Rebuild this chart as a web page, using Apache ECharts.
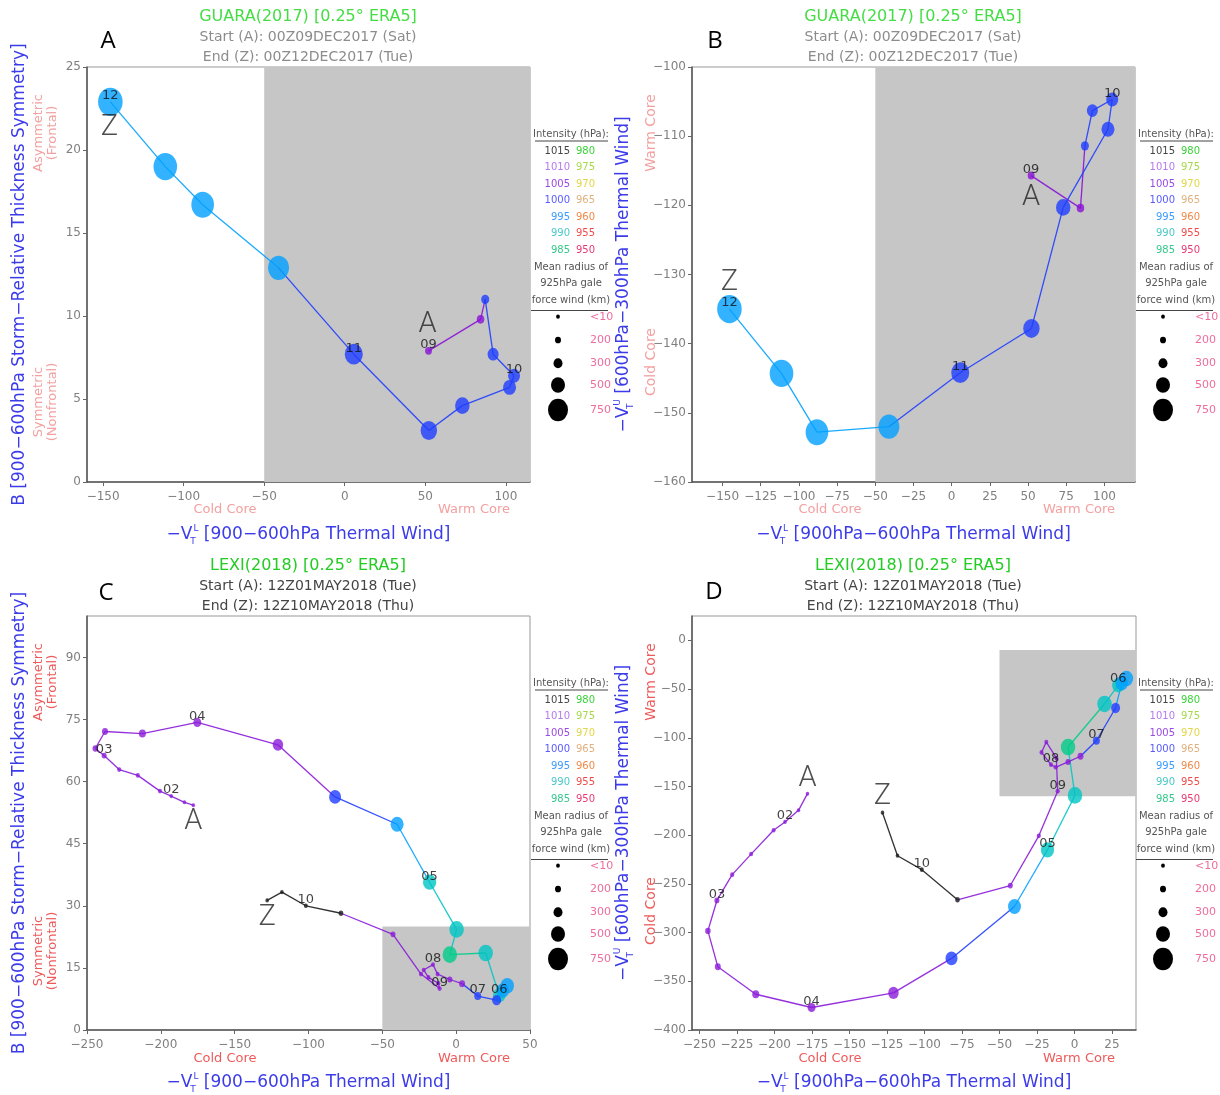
<!DOCTYPE html>
<html>
<head>
<meta charset="UTF-8">
<title>Cyclone phase space - GUARA / LEXI</title>
<script src="https://cdn.jsdelivr.net/npm/echarts@6/dist/echarts.min.js"></script>
<style>
  body{margin:0;background:#fff}
</style>
</head>
<body>
<div id="main" style="width:1220px;height:1095px"></div>
<script>
// GUARA (2017), 6-hourly, 00Z09DEC2017 -> 00Z12DEC2017
var guaraVTL  = [52, 84.3, 87.2, 92.1, 105.1, 102.3, 73, 52.2, 5.6, -41.1, -88.2, -111.4, -145.5];
var guaraB    = [7.9, 9.8, 11.0, 7.7, 6.4, 5.7, 4.6, 3.1, 7.7, 12.9, 16.7, 19.0, 22.9];
var guaraVTU  = [-115.7, -120.4, -111.4, -106.3, -104.7, -109.0, -120.3, -137.8, -144.2, -152.0, -152.8, -144.3, -135.0];
var guaraMslp = [1005, 1005, 1000, 1000, 1000, 1000, 1000, 1000, 1000, 995, 995, 995, 995];
var guaraGale = [230, 250, 270, 380, 420, 460, 520, 600, 667, 790, 860, 900, 940];
var guaraDay  = ['09', '', '', '', '10', '', '', '', '11', '', '', '', '12'];

// LEXI (2018), 6-hourly, 12Z01MAY2018 -> 12Z10MAY2018
var lexiVTL  = [-178, -184, -193, -200.6, -215.6, -228.2, -238.4, -244.4, -237.8, -212.5,
                -175.3, -120.7, -82, -40, -18, 0.3, -4.3, 20, 29.2, 34.6,
                31.5, 27.4, 14.6, 4, -4.3, -12.6, -15.7, -22, -18.8, -12.1,
                -11.2, -23.8, -42.8, -78, -101.8, -118, -128];
var lexiB    = [54.3, 55.0, 56.5, 57.7, 61.5, 62.9, 66.3, 68.0, 72.1, 71.6,
                74.3, 68.9, 56.3, 49.7, 35.7, 24.3, 18.2, 18.6, 8.4, 10.7,
                9.5, 7.2, 8.2, 11.2, 12.2, 13.5, 15.8, 14.5, 12.7, 11.3,
                10.0, 13.5, 23.1, 28.2, 30.0, 33.3, 31.3];
var lexiVTU  = [-157.4, -174.5, -186.4, -194.9, -219.4, -240.5, -267.0, -298.3, -335.0, -363.3,
                -376.9, -361.9, -326.5, -273.2, -215.0, -159.2, -109.5, -65.3, -45.9, -39.1,
                -44, -69.4, -103.1, -119, -124.8, -130.3, -127.6, -115, -104.4, -120.7,
                -154.8, -200.7, -251.7, -266.3, -235.4, -221.1, -176.9];
var lexiMslp = [1010, 1010, 1010, 1010, 1010, 1010, 1010, 1010, 1010, 1010,
                1010, 1010, 1000, 995, 990, 990, 985, 990, 990, 995,
                995, 1000, 1000, 1010, 1010, 1010, 1010, 1010, 1010, 1010,
                1010, 1010, 1010, 1015, 1015, 1015, 1015];
var lexiGale = [50, 50, 60, 100, 100, 110, 150, 175, 200, 233,
                267, 360, 420, 460, 470, 520, 520, 520, 440, 480,
                440, 300, 233, 200, 160, 100, 100, 100, 100, 100,
                110, 110, 150, 130, 100, 70, 60];
var lexiDay  = ['', '', '02', '', '', '', '03', '', '', '', '04', '', '', '', '05', '', '', '', '06', '',
                '', '', '07', '', '', '', '08', '', '', '', '09', '', '', '', '10', '', ''];

// tick labels
var ticksA_x = [-150, -100, -50, 0, 50, 100];
var ticksA_y = [0, 5, 10, 15, 20, 25];
var ticksB_x = [-150, -125, -100, -75, -50, -25, 0, 25, 50, 75, 100];
var ticksB_y = [-160, -150, -140, -130, -120, -110, -100];
var ticksC_x = [-250, -200, -150, -100, -50, 0, 50];
var ticksC_y = [0, 15, 30, 45, 60, 75, 90];
var ticksD_x = [-250, -225, -200, -175, -150, -125, -100, -75, -50, -25, 0, 25];
var ticksD_y = [-400, -350, -300, -250, -200, -150, -100, -50, 0];

// legend
var legendLeftHpa  = [1015, 1010, 1005, 1000, 995, 990, 985];
var legendRightHpa = [980, 975, 970, 965, 960, 955, 950];
var legendGaleKm   = [80, 200, 300, 500, 750];
var legendGaleText = ['<10', '200', '300', '500', '750'];

var mslpColor = {1015: '#1c1c1c', 1010: '#8a1bd8', 1005: '#8812d6', 1000: '#1f3dff', 995: '#00a0ff',
                 990: '#00c4c4', 985: '#00cc88', 980: '#2ecc2e', 975: '#a0d22a', 970: '#e0d82c',
                 965: '#e0aa70', 960: '#f0803a', 955: '#f03c3c', 950: '#e0145a'};
var legendTextColor = {1015: '#444', 1010: '#b57aee', 1005: '#9a4ae6', 1000: '#5a5aff', 995: '#3a9cff',
                 990: '#4cc8c8', 985: '#36c88c', 980: '#3ad43a', 975: '#a8d84a', 970: '#e2d64a',
                 965: '#e0b07e', 960: '#ee8a4a', 955: '#ee4c4c', 950: '#e83a72'};

var F = 'DejaVu Sans';
var BLUE = '#3b3bea';

function galeSize(km) {
  var k = [0, 100, 200, 300, 500, 750, 1000], d = [3, 4, 6, 9, 14, 20, 26];
  for (var i = 1; i < k.length; i++) {
    if (km <= k[i]) return d[i - 1] + (d[i] - d[i - 1]) * (km - k[i - 1]) / (k[i] - k[i - 1]);
  }
  return 26;
}
function minus(v) { return String(v).replace('-', '\u2212'); }

var panels = [
  {xs: guaraVTL, ys: guaraB, mslp: guaraMslp, gale: guaraGale, day: guaraDay,
   grid: {left: 87, top: 67, width: 443, height: 415}, xr: [-160, 115], yr: [0, 25],
   xt: ticksA_x, yt: ticksA_y, box: [[-50, 0], [115, 25]], offA: [-1, -26], offZ: [-1, 26],
   xName: '900\u2212600hPa', yKind: 'B'},
  {xs: guaraVTL, ys: guaraVTU, mslp: guaraMslp, gale: guaraGale, day: guaraDay,
   grid: {left: 692, top: 67, width: 443, height: 415}, xr: [-170, 120], yr: [-160, -100],
   xt: ticksB_x, yt: ticksB_y, box: [[-50, -160], [120, -100]], offA: [0, 22], offZ: [0, -26],
   xName: '900hPa\u2212600hPa', yKind: 'U'},
  {xs: lexiVTL, ys: lexiB, mslp: lexiMslp, gale: lexiGale, day: lexiDay,
   grid: {left: 87, top: 616, width: 443, height: 416}, xr: [-250, 50], yr: [0, 100],
   xt: ticksC_x, yt: ticksC_y, box: [[-50, 0], [50, 25]], offA: [0, 17], offZ: [0, 17],
   xName: '900\u2212600hPa', yKind: 'B'},
  {xs: lexiVTL, ys: lexiVTU, mslp: lexiMslp, gale: lexiGale, day: lexiDay,
   grid: {left: 692, top: 616, width: 444, height: 416}, xr: [-255, 41], yr: [-400, 25],
   xt: ticksD_x, yt: ticksD_y, box: [[-50, -160], [41, -10]], offA: [0, -15], offZ: [0, -16],
   xName: '900hPa\u2212600hPa', yKind: 'U'}
];

function vRich(color) {
  return {
    a: {fontSize: 17, color: color, fontFamily: F, lineHeight: 22},
    s: {fontSize: 9, color: color, fontFamily: F, verticalAlign: 'bottom', lineHeight: 10, width: 1},
    p: {fontSize: 9, color: color, fontFamily: F, verticalAlign: 'top', lineHeight: 10}
  };
}

var grids = [], xAxes = [], yAxes = [], series = [];
panels.forEach(function (p, i) {
  grids.push({left: p.grid.left, top: p.grid.top, width: p.grid.width, height: p.grid.height,
              show: true, borderColor: '#999', borderWidth: 1});
  xAxes.push({
    type: 'value', gridIndex: i, min: p.xr[0], max: p.xr[1],
    axisLine: {show: true, onZero: false, lineStyle: {color: '#555', width: 1.5}},
    axisTick: {show: true, length: 4, customValues: p.xt, lineStyle: {color: '#666'}},
    axisLabel: {customValues: p.xt, color: '#808080', fontSize: 12, fontFamily: F, margin: 9, formatter: minus},
    splitLine: {show: false},
    name: '{a|\u2212V}{s|T}{p|L}{a| [' + p.xName + ' Thermal Wind]}',
    nameLocation: 'middle', nameGap: 42,
    nameTextStyle: {rich: vRich(BLUE)}
  });
  yAxes.push({
    type: 'value', gridIndex: i, min: p.yr[0], max: p.yr[1],
    axisLine: {show: true, onZero: false, lineStyle: {color: '#555', width: 1.5}},
    axisTick: {show: true, length: 4, customValues: p.yt, lineStyle: {color: '#666'}},
    axisLabel: {customValues: p.yt, color: '#808080', fontSize: 12, fontFamily: F, margin: 6, formatter: minus},
    splitLine: {show: false},
    name: p.yKind === 'B' ? '{a|B [900\u2212600hPa Storm\u2212Relative Thickness Symmetry]}'
                          : '{a|\u2212V}{s|T}{p|U}{a| [600hPa\u2212300hPa Thermal Wind]}',
    nameLocation: 'middle', nameRotate: 90, nameGap: p.yKind === 'B' ? 56 : 57,
    nameTextStyle: {rich: vRich(BLUE)}
  });

  // grey warm-core / symmetric box
  series.push({type: 'scatter', xAxisIndex: i, yAxisIndex: i, data: [], z: 1, silent: true,
    markArea: {silent: true, itemStyle: {color: '#c6c6c6'},
      data: [[{coord: p.box[0]}, {coord: p.box[1]}]]}});

  var segs = [];
  for (var k = 0; k < p.xs.length - 1; k++) {
    segs.push({coords: [[p.xs[k], p.ys[k]], [p.xs[k + 1], p.ys[k + 1]]],
               lineStyle: {color: mslpColor[p.mslp[k]]}});
  }
  series.push({type: 'lines', coordinateSystem: 'cartesian2d', xAxisIndex: i, yAxisIndex: i,
    z: 2, silent: true, lineStyle: {width: 1.3, opacity: 0.9}, data: segs});

  var pts = p.xs.map(function (x, k) {
    var d = galeSize(p.gale[k]);
    return {value: [x, p.ys[k]], symbolSize: [d, d * 1.15],
            itemStyle: {color: mslpColor[p.mslp[k]]},
            label: {show: p.day[k] !== '', formatter: p.day[k]}};
  });
  series.push({type: 'scatter', xAxisIndex: i, yAxisIndex: i, z: 3, silent: true, data: pts,
    label: {position: 'inside', offset: [0, -6], color: '#111', fontSize: 13, fontFamily: F}});

  var n = p.xs.length - 1;
  series.push({type: 'scatter', xAxisIndex: i, yAxisIndex: i, z: 4, silent: true, symbolSize: 1,
    itemStyle: {color: 'rgba(0,0,0,0)'},
    label: {show: true, position: 'inside', color: '#222', fontSize: 29, fontWeight: 300, fontFamily: 'Roboto'},
    data: [{value: [p.xs[0], p.ys[0]], label: {formatter: 'A', offset: p.offA}},
           {value: [p.xs[n], p.ys[n]], label: {formatter: 'Z', offset: p.offZ}}]});
});

function txt(x, y, s, color, size, rot, extra) {
  var e = {type: 'text', x: x, y: y, rotation: rot || 0, silent: true,
    style: {text: s, fill: color, font: (extra && extra.weight ? extra.weight + ' ' : '') + size + 'px "' + (extra && extra.family ? extra.family : F) + '"',
            textAlign: extra && extra.align ? extra.align : 'center', textVerticalAlign: 'middle',
            lineHeight: extra && extra.lh ? extra.lh : size + 2}};
  return e;
}

var graphics = [];
// titles
[[308, 0, 'GUARA(2017) [0.25\u00b0 ERA5]', 'Start (A): 00Z09DEC2017 (Sat)', 'End (Z): 00Z12DEC2017 (Tue)', '#44dd44', '#8c8c8c'],
 [913, 0, 'GUARA(2017) [0.25\u00b0 ERA5]', 'Start (A): 00Z09DEC2017 (Sat)', 'End (Z): 00Z12DEC2017 (Tue)', '#44dd44', '#8c8c8c'],
 [308, 549, 'LEXI(2018) [0.25\u00b0 ERA5]', 'Start (A): 12Z01MAY2018 (Tue)', 'End (Z): 12Z10MAY2018 (Thu)', '#22cc22', '#444'],
 [913, 549, 'LEXI(2018) [0.25\u00b0 ERA5]', 'Start (A): 12Z01MAY2018 (Tue)', 'End (Z): 12Z10MAY2018 (Thu)', '#22cc22', '#444']
].forEach(function (t) {
  graphics.push(txt(t[0], t[1] + 17, t[2], t[5], 16));
  graphics.push(txt(t[0], t[1] + 37, t[3], t[6], 14));
  graphics.push(txt(t[0], t[1] + 57, t[4], t[6], 14));
});
// panel letters
[[108, 41, 'A'], [715, 41, 'B'], [106, 593, 'C'], [714, 592, 'D']].forEach(function (t) {
  graphics.push(txt(t[0], t[1], t[2], '#000', 24, 0, {family: 'Open Sans'}));
});
// core / frontal annotations
var pinkA = '#f3a0a0', pinkC = '#ee5a5a';
[[0, pinkA], [549, pinkC]].forEach(function (r) {
  var dy = r[0], c = r[1];
  graphics.push(txt(225, 510 + dy, 'Cold Core', c, 13));
  graphics.push(txt(474, 510 + dy, 'Warm Core', c, 13));
  graphics.push(txt(830, 510 + dy, 'Cold Core', c, 13));
  graphics.push(txt(1079, 510 + dy, 'Warm Core', c, 13));
  graphics.push(txt(46, 133 + dy, 'Asymmetric\n(Frontal)', c, 13, Math.PI / 2, {lh: 14}));
  graphics.push(txt(46, 402 + dy, 'Symmetric\n(Nonfrontal)', c, 13, Math.PI / 2, {lh: 14}));
  graphics.push(txt(651, 133 + dy, 'Warm Core', c, 14, Math.PI / 2));
  graphics.push(txt(651, 362 + dy, 'Cold Core', c, 14, Math.PI / 2));
});
// legends
[[528, 120], [1133, 120], [528, 669], [1133, 669]].forEach(function (o) {
  var ox = o[0], oy = o[1];
  graphics.push(txt(ox + 43, oy + 14, 'Intensity (hPa):', '#555', 10));
  graphics.push({type: 'line', silent: true, shape: {x1: ox + 7, y1: oy + 21, x2: ox + 80, y2: oy + 21},
                 style: {stroke: '#444', lineWidth: 1}});
  legendLeftHpa.forEach(function (h, i) {
    graphics.push(txt(ox + 42, oy + 31 + i * 16.55, String(h), legendTextColor[h], 10, 0, {align: 'right'}));
    var r = legendRightHpa[i];
    graphics.push(txt(ox + 48, oy + 31 + i * 16.55, String(r), legendTextColor[r], 10, 0, {align: 'left'}));
  });
  graphics.push(txt(ox + 43, oy + 147, 'Mean radius of', '#555', 10));
  graphics.push(txt(ox + 43, oy + 163, '925hPa gale', '#555', 10));
  graphics.push(txt(ox + 43, oy + 180, 'force wind (km)', '#555', 10));
  graphics.push({type: 'line', silent: true, shape: {x1: ox + 3, y1: oy + 190.5, x2: ox + 80, y2: oy + 190.5},
                 style: {stroke: '#444', lineWidth: 1}});
  var dotY = [196.7, 220, 243.3, 265, 290];
  legendGaleKm.forEach(function (km, i) {
    var d = galeSize(km);
    graphics.push({type: 'circle', silent: true, x: ox + 30, y: oy + dotY[i], scaleY: 1.12,
                   shape: {cx: 0, cy: 0, r: d / 2}, style: {fill: '#000'}});
    graphics.push(txt(ox + 62, oy + dotY[i], legendGaleText[i], '#ee6d9c', 11, 0, {align: 'left'}));
  });
});

var chart = echarts.init(document.getElementById('main'));
chart.setOption({
  animation: false,
  backgroundColor: '#fff',
  grid: grids,
  xAxis: xAxes,
  yAxis: yAxes,
  series: series,
  graphic: graphics
});
</script>
</body>
</html>
